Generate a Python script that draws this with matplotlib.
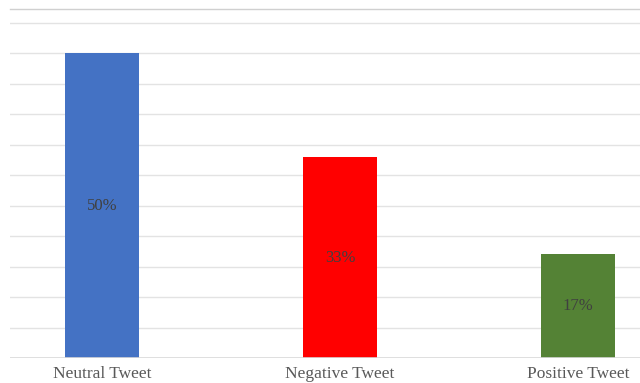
import matplotlib
matplotlib.use("Agg")
import matplotlib.pyplot as plt
import numpy as np

categories = ["Neutral Tweet", "Negative Tweet", "Positive Tweet"]
values = [50, 33, 17]
labels = ["50%", "33%", "17%"]
colors = ["#4472C4", "#FF0000", "#548235"]

fig = plt.figure(figsize=(6.4, 3.83), dpi=100)
W, H = 640, 383
left_px, right_px, top_px, base_px = 10, 640, 9, 358
ax = fig.add_axes([left_px / W, (H - base_px) / H, (right_px - left_px) / W, (base_px - top_px) / H])

x = np.arange(len(categories))
ax.bar(x, values, width=0.31, color=colors, zorder=3)

ytop = 55 + (23 - top_px) / ((base_px - 23) / 55)
ax.set_ylim(0, ytop)
ax.set_xlim((left_px - 102) / 238, (right_px - 102) / 238)

for yv in np.arange(5, 56, 5):
    ax.axhline(yv, color="#E3E3E3", lw=1.0, zorder=1)
ax.axhline(0, color="#D9D9D9", lw=1.2, zorder=4)

for s in ["left", "right", "bottom"]:
    ax.spines[s].set_visible(False)
ax.spines["top"].set_color("#D0D0D0")
ax.spines["top"].set_linewidth(1.0)

ax.set_yticks([])
ax.set_xticks(x)
ax.set_xticklabels(categories, fontfamily="Liberation Serif", fontsize=12.5, color="#595959")
ax.tick_params(axis="x", length=0, pad=6)

for xi, v, lab in zip(x, values, labels):
    ax.text(xi, v / 2, lab, ha="center", va="center", fontfamily="Liberation Serif",
            fontsize=12, color="#404040", zorder=5)

fig.savefig("out.png", dpi=100)
